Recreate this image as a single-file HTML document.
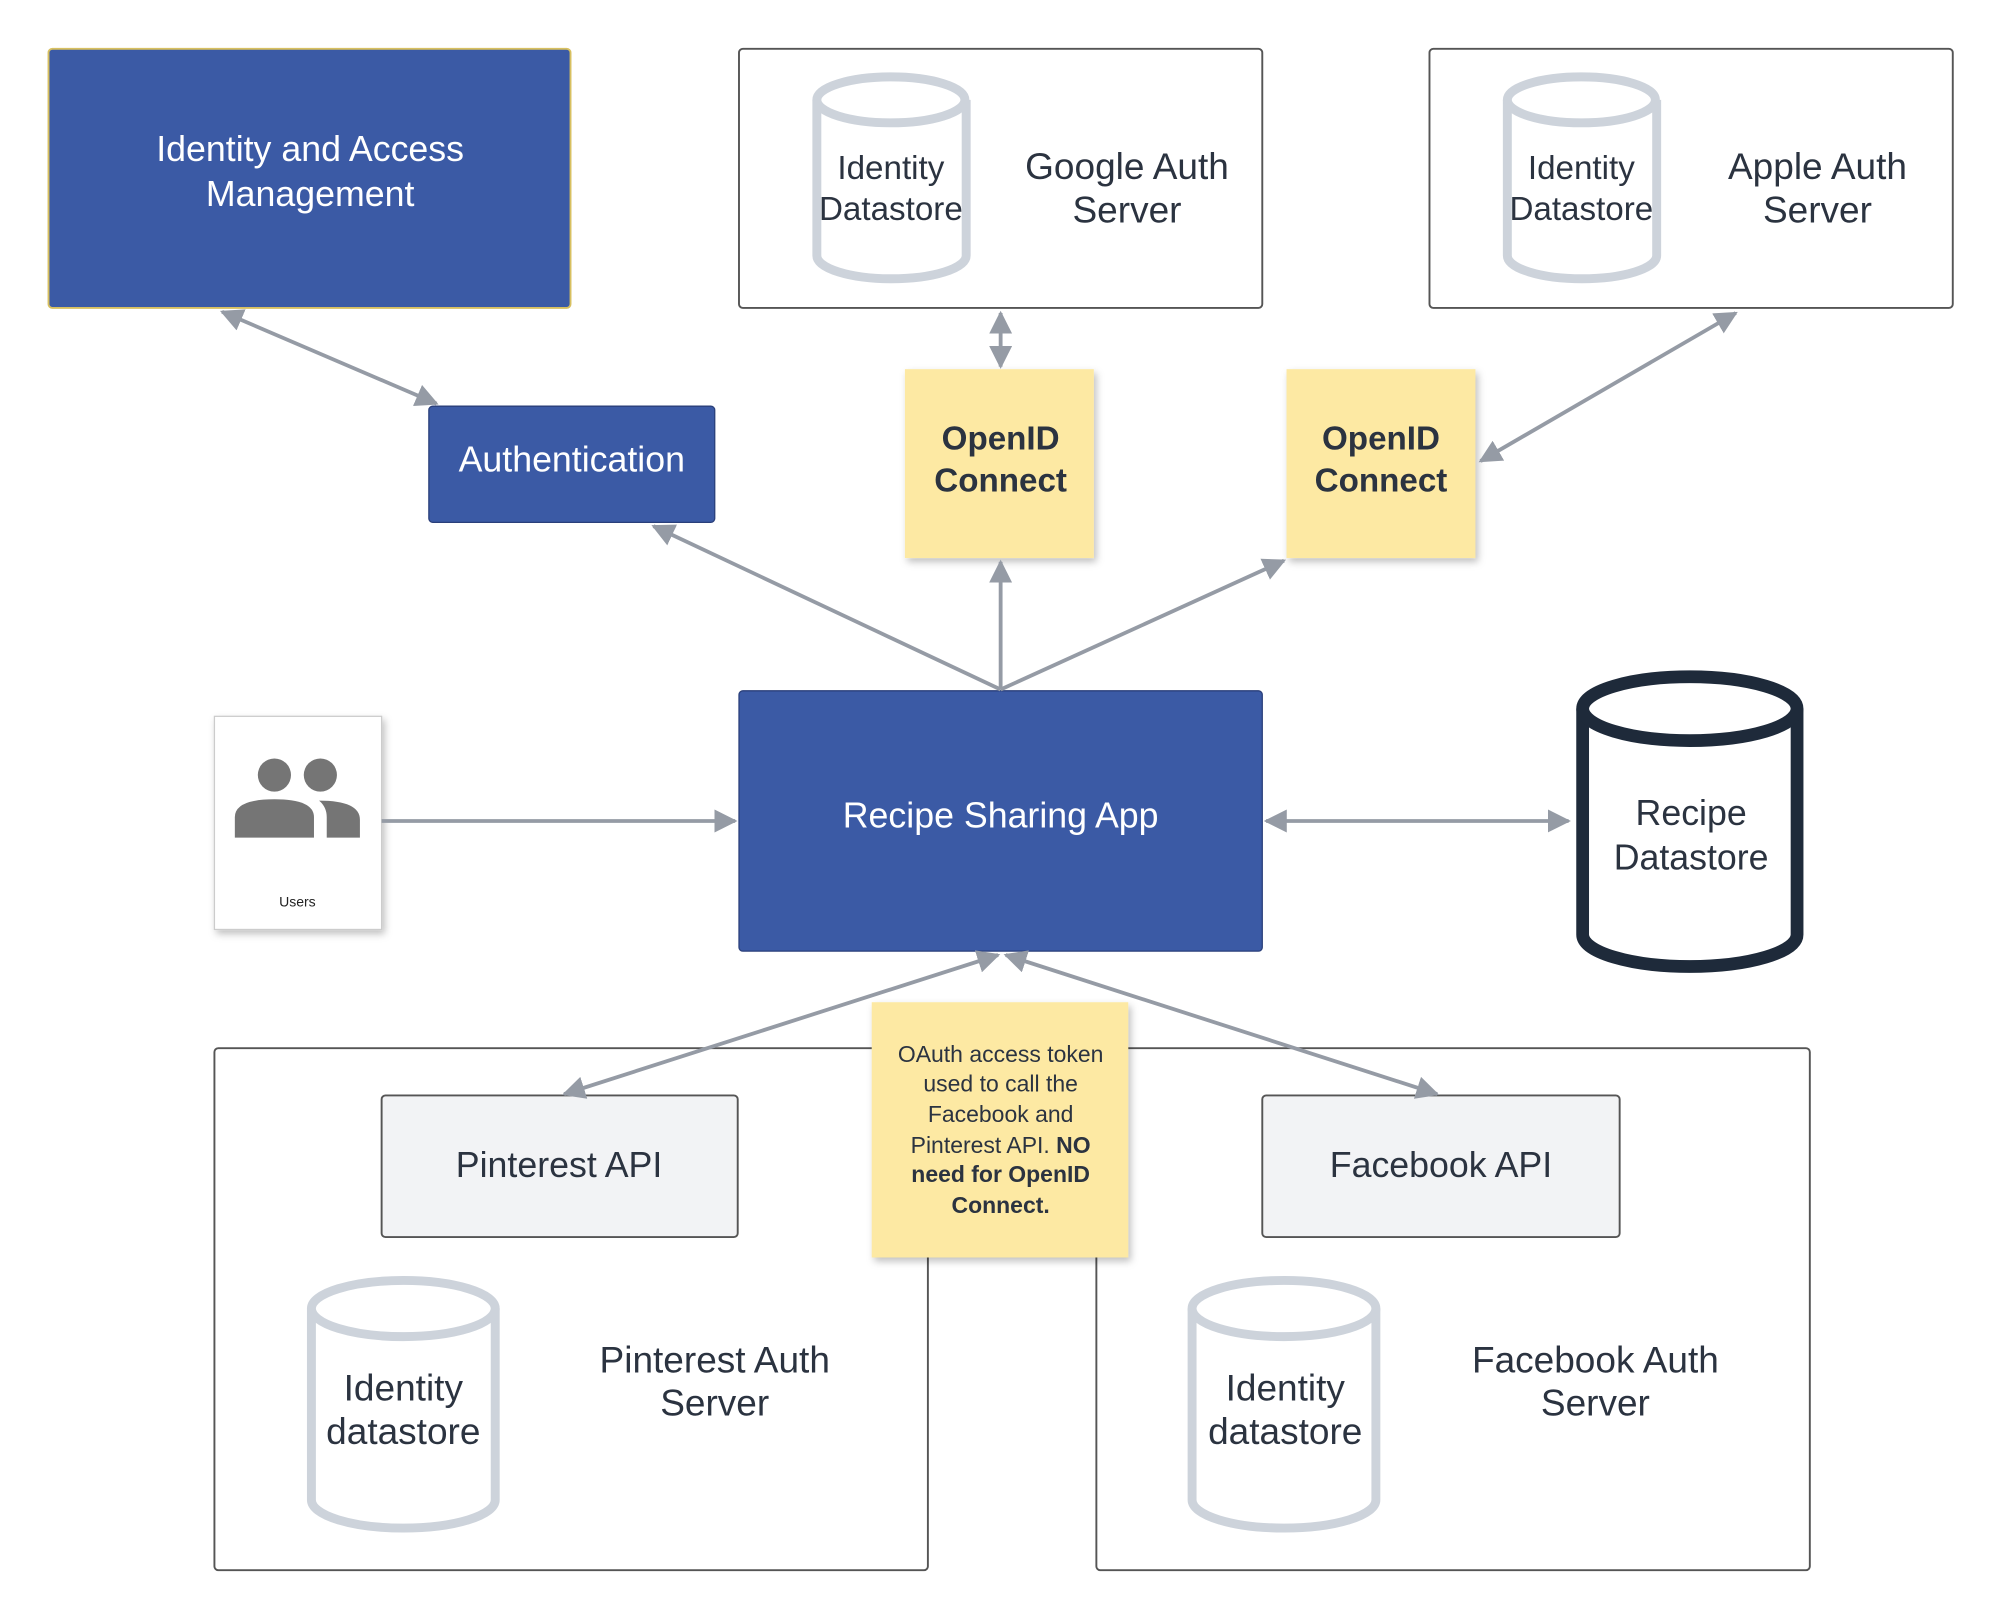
<!DOCTYPE html>
<html><head><meta charset="utf-8"><style>
html,body{margin:0;padding:0;background:#fff;}
svg{display:block;}
text{font-family:"Liberation Sans",sans-serif;}
</style></head><body>
<svg width="2000" height="1619" viewBox="0 0 1567 1268" xmlns="http://www.w3.org/2000/svg">
<defs>
<marker id="a" viewBox="0 0 10 10" refX="9" refY="5" markerWidth="6" markerHeight="6" orient="auto-start-reverse" markerUnits="strokeWidth"><path d="M0,0 L10,5 L0,10 z" fill="#959ba5"/></marker>
<filter id="sh" x="-10%" y="-10%" width="130%" height="130%"><feDropShadow dx="2" dy="3" stdDeviation="3" flood-color="#000" flood-opacity="0.25"/></filter>
</defs>
<rect width="1567" height="1268" fill="#fff"/>

<!-- containers -->
<rect x="38" y="38" width="409" height="203" rx="3" fill="#3b5aa5" stroke="#d8c060" stroke-width="1.5"/>
<text x="243" y="126" font-size="28" fill="#fff" text-anchor="middle">Identity and Access</text>
<text x="243" y="161" font-size="28" fill="#fff" text-anchor="middle">Management</text>

<rect x="579" y="38" width="410" height="203" rx="3" fill="#fff" stroke="#555" stroke-width="1.5"/>
<rect x="1120" y="38" width="410" height="203" rx="3" fill="#fff" stroke="#555" stroke-width="1.5"/>
<rect x="168" y="821" width="559" height="409" rx="3" fill="#fff" stroke="#555" stroke-width="1.5"/>
<rect x="859" y="821" width="559" height="409" rx="3" fill="#fff" stroke="#555" stroke-width="1.5"/>

<!-- cylinders light -->
<g fill="#fff" stroke="#cdd3db" stroke-width="7">
<path d="M640,78 V200 A58,18 0 0 0 757,200 V78"/><ellipse cx="698" cy="78" rx="58" ry="18"/>
<path d="M1181,78 V200 A58,18 0 0 0 1298,200 V78"/><ellipse cx="1239" cy="78" rx="58" ry="18"/>
<path d="M244,1025 V1175 A72,22 0 0 0 388,1175 V1025"/><ellipse cx="316" cy="1025" rx="72" ry="22"/>
<path d="M934,1025 V1175 A72,22 0 0 0 1078,1175 V1025"/><ellipse cx="1006" cy="1025" rx="72" ry="22"/>
</g>
<g font-size="26" fill="#2b3340" text-anchor="middle">
<text x="698" y="140">Identity</text><text x="698" y="172">Datastore</text>
<text x="1239" y="140">Identity</text><text x="1239" y="172">Datastore</text>
</g>
<g font-size="29" fill="#2b3340" text-anchor="middle">
<text x="883" y="140">Google Auth</text><text x="883" y="174">Server</text>
<text x="1424" y="140">Apple Auth</text><text x="1424" y="174">Server</text>
<text x="316" y="1097">Identity</text><text x="316" y="1131">datastore</text>
<text x="1007" y="1097">Identity</text><text x="1007" y="1131">datastore</text>
<text x="560" y="1075">Pinterest Auth</text><text x="560" y="1109">Server</text>
<text x="1250" y="1075">Facebook Auth</text><text x="1250" y="1109">Server</text>
</g>

<!-- Authentication -->
<rect x="336" y="318" width="224" height="91" rx="3" fill="#3b5aa5" stroke="#2a3f7a" stroke-width="1"/>
<text x="448" y="369" font-size="28" fill="#fff" text-anchor="middle">Authentication</text>

<!-- OpenID notes -->
<rect x="709" y="289" width="148" height="148" fill="#fde9a3" filter="url(#sh)"/>
<rect x="1008" y="289" width="148" height="148" fill="#fde9a3" filter="url(#sh)"/>
<g font-size="26" font-weight="bold" fill="#2b3340" text-anchor="middle">
<text x="784" y="352">OpenID</text><text x="784" y="385">Connect</text>
<text x="1082" y="352">OpenID</text><text x="1082" y="385">Connect</text>
</g>

<!-- Recipe app -->
<rect x="579" y="541" width="410" height="204" rx="3" fill="#3b5aa5" stroke="#2a3f7a" stroke-width="1"/>
<text x="784" y="648" font-size="28" fill="#fff" text-anchor="middle">Recipe Sharing App</text>

<!-- Users -->
<rect x="168" y="561" width="131" height="167" fill="#fff" stroke="#ccc" stroke-width="1" filter="url(#sh)"/>
<g fill="#757575">
<circle cx="215" cy="607" r="13"/><circle cx="251" cy="607" r="13"/>
<path d="M184,656 V640 Q184,626 215,626 Q246,626 246,640 V656 z"/>
<path d="M256,656 V640 Q256,632 250,627 Q282,627 282,642 V656 z"/>
</g>
<text x="233" y="710" font-size="11" fill="#222" text-anchor="middle">Users</text>

<!-- Recipe datastore -->
<g fill="#fff" stroke="#1e2a3a" stroke-width="10">
<path d="M1240,555 V732 A84,25 0 0 0 1408,732 V555"/><ellipse cx="1324" cy="555" rx="84" ry="25"/>
</g>
<text x="1325" y="646" font-size="28" fill="#2b3340" text-anchor="middle">Recipe</text>
<text x="1325" y="681" font-size="28" fill="#2b3340" text-anchor="middle">Datastore</text>

<!-- APIs -->
<rect x="299" y="858" width="279" height="111" rx="3" fill="#f2f3f5" stroke="#555" stroke-width="1.5"/>
<rect x="989" y="858" width="280" height="111" rx="3" fill="#f2f3f5" stroke="#555" stroke-width="1.5"/>
<text x="438" y="922" font-size="28" fill="#2b3340" text-anchor="middle">Pinterest API</text>
<text x="1129" y="922" font-size="28" fill="#2b3340" text-anchor="middle">Facebook API</text>

<!-- arrows -->
<g stroke="#959ba5" stroke-width="3" fill="none" marker-end="url(#a)">
<line x1="174" y1="244" x2="342" y2="316" marker-start="url(#a)"/>
<line x1="784" y1="245" x2="784" y2="287" marker-start="url(#a)"/>
<line x1="1360" y1="245" x2="1160" y2="361" marker-start="url(#a)"/>
<line x1="784" y1="540" x2="512" y2="412"/>
<line x1="784" y1="540" x2="784" y2="440"/>
<line x1="784" y1="540" x2="1006" y2="439"/>
<line x1="299" y1="643" x2="576" y2="643"/>
<line x1="992" y1="643" x2="1229" y2="643" marker-start="url(#a)"/>
<line x1="782" y1="748" x2="442" y2="857" marker-start="url(#a)"/>
<line x1="788" y1="748" x2="1126" y2="857" marker-start="url(#a)"/>
</g>

<!-- OAuth note -->
<rect x="683" y="785" width="201" height="200" fill="#fde9a3" filter="url(#sh)"/>
<g font-size="18" fill="#2b3340" text-anchor="middle">
<text x="784" y="832">OAuth access token</text>
<text x="784" y="855">used to call the</text>
<text x="784" y="879">Facebook and</text>
<text x="784" y="903">Pinterest API. <tspan font-weight="bold">NO</tspan></text>
<text x="784" y="926" font-weight="bold">need for OpenID</text>
<text x="784" y="950" font-weight="bold">Connect.</text>
</g>
</svg>
</body></html>
